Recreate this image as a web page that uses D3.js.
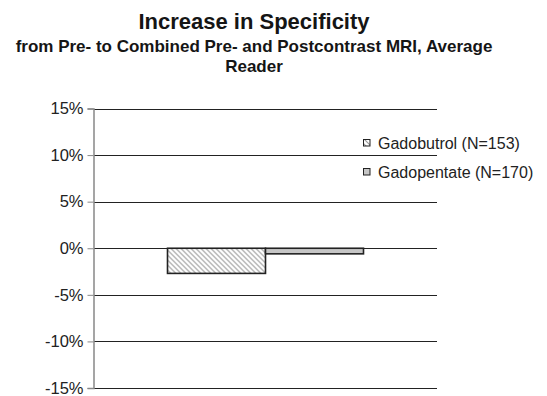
<!DOCTYPE html>
<html><head><meta charset="utf-8">
<script src="https://cdn.jsdelivr.net/npm/d3@7"></script>
<style>body{margin:0;background:#fff}svg{display:block}</style>
</head><body><svg id="c" width="547" height="396"></svg>
<script>
const categories = ["Average Reader"];
const seriesNames = ["Gadobutrol (N=153)", "Gadopentate (N=170)"];
const seriesValues = [-0.027, -0.006];
const tickValues = [-0.15, -0.10, -0.05, 0, 0.05, 0.10, 0.15];
const titleLines = ["Increase in Specificity"];
const subtitleLines = ["from Pre- to Combined Pre- and Postcontrast MRI, Average", "Reader"];

const svg = d3.select("#c");
const font = "'Liberation Sans', Arial, Helvetica, sans-serif";
const defs = svg.append("defs");
const pat = defs.append("pattern").attr("id","hatch").attr("patternUnits","userSpaceOnUse")
  .attr("width",5).attr("height",5);
pat.append("rect").attr("width",5).attr("height",5).attr("fill","#fff");
pat.append("path").attr("d","M0,0L5,5M-1,4L1,6M4,-1L6,1").attr("stroke","#9a9a9a").attr("stroke-width",1.1);
const fills = ["url(#hatch)", "#c6c6c6"];

const plotL = 94, plotR = 437, plotT = 108.5, plotB = 388;
const y = d3.scaleLinear().domain([-0.15, 0.15]).range([plotB, plotT]);
const x = d3.scaleBand().domain(categories).range([plotL, plotR]).paddingInner(0).paddingOuter(0.375);
const xs = d3.scaleBand().domain(seriesNames).range([0, x.bandwidth()]);

// title
const cx = 254;
svg.append("text").attr("x", cx).attr("y", 29).attr("text-anchor","middle")
  .attr("font-family", font).attr("font-weight","bold").attr("font-size", 22).attr("fill","#151515")
  .text(titleLines[0]);
subtitleLines.forEach((t,i)=>{
  svg.append("text").attr("x", cx).attr("y", 51.5 + i*20).attr("text-anchor","middle")
    .attr("font-family", font).attr("font-weight","bold").attr("font-size", 17).attr("fill","#151515")
    .text(t);
});

// gridlines
svg.append("g").selectAll("line").data(tickValues).join("line")
  .attr("x1", plotL).attr("x2", plotR)
  .attr("y1", d=>Math.round(y(d))+0.5).attr("y2", d=>Math.round(y(d))+0.5)
  .attr("stroke","#222").attr("stroke-width",1);

// bars
const g = svg.append("g").attr("transform", `translate(${x(categories[0])},0)`);
g.selectAll("rect").data(seriesValues).join("rect")
  .attr("x", (d,i)=>xs(seriesNames[i]))
  .attr("width", xs.bandwidth())
  .attr("y", d=>y(Math.max(0,d)))
  .attr("height", d=>Math.abs(y(d)-y(0)))
  .attr("fill", (d,i)=>fills[i])
  .attr("stroke","#222").attr("stroke-width",1.6);

// y axis
const axis = d3.axisLeft(y).tickValues(tickValues).tickSize(6).tickPadding(4)
  .tickFormat(d=>Math.round(d*100)+"%");
const ag = svg.append("g").attr("transform", `translate(${plotL-0.5},0)`).call(axis);
ag.select(".domain").attr("stroke","#888").attr("stroke-width",1.5);
ag.selectAll(".tick line").attr("stroke","#888");
ag.selectAll(".tick text").attr("font-family", font).attr("font-size", 16.5).attr("fill","#222");

// legend
const lg = svg.append("g");
seriesNames.forEach((n,i)=>{
  const cy = 143 + i*29;
  lg.append("rect").attr("x",363.5).attr("y",cy-3.5).attr("width",6.5).attr("height",6.5)
    .attr("fill", fills[i]).attr("stroke","#222").attr("stroke-width",1);
  lg.append("text").attr("x",378).attr("y",cy+6).attr("font-family",font).attr("font-size",16)
    .attr("fill","#222").text(n);
});
</script></body></html>
